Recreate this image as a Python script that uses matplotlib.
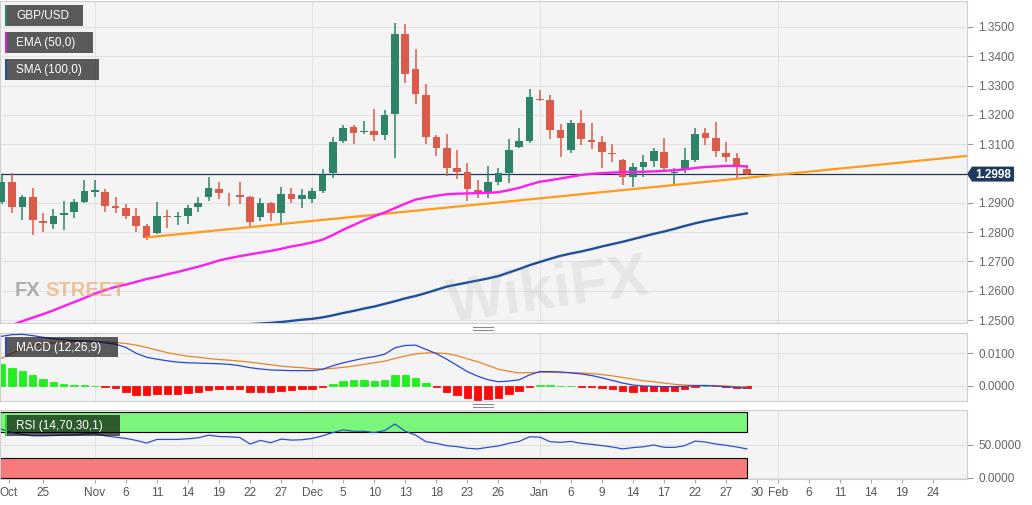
import numpy as np
import matplotlib
matplotlib.use("Agg")
import matplotlib.pyplot as plt
from matplotlib.patches import Rectangle, Polygon
from matplotlib.lines import Line2D
from matplotlib.ticker import FormatStrFormatter

plt.rcParams['font.family'] = ['Liberation Sans', 'DejaVu Sans']

# ---------------- data (daily GBP/USD, index 0 = first visible session) ----------------
opens = [1.2904, 1.2972, 1.2887, 1.2921, 1.2839, 1.2828, 1.2858, 1.2867, 1.2904, 1.2938,
         1.2938, 1.2889, 1.2881, 1.2855, 1.2821, 1.2798, 1.2855, 1.2853, 1.2855, 1.2885,
         1.2921, 1.2948, 1.2931, 1.2927, 1.2921, 1.2853, 1.2898, 1.2864, 1.2930, 1.2913,
         1.2913, 1.2941, 1.3001, 1.3112, 1.3160, 1.3141, 1.3146, 1.3131, 1.3202, 1.3475,
         1.3356, 1.3268, 1.3123, 1.3086, 1.3018, 1.3006, 1.2944, 1.2935, 1.2972, 1.3001,
         1.3092, 1.3112, 1.3254, 1.3251, 1.3149, 1.3080, 1.3171, 1.3114, 1.3106, 1.3071,
         1.3046, 1.2987, 1.3023, 1.3043, 1.3075, 1.3001, 1.3012, 1.3046, 1.3137, 1.3120,
         1.3069, 1.3054, 1.3014]
highs = [1.2995, 1.3001, 1.2927, 1.2952, 1.2864, 1.2878, 1.2907, 1.2912, 1.2977, 1.2978,
         1.2946, 1.2919, 1.2896, 1.2881, 1.2828, 1.2902, 1.2875, 1.2870, 1.2893, 1.2921,
         1.2987, 1.2972, 1.2935, 1.2972, 1.2924, 1.2918, 1.2903, 1.2953, 1.2949, 1.2947,
         1.2949, 1.3014, 1.3126, 1.3166, 1.3166, 1.3180, 1.3219, 1.3217, 1.3515, 1.3509,
         1.3424, 1.3304, 1.3131, 1.3134, 1.3080, 1.3035, 1.2978, 1.3026, 1.3018, 1.3117,
         1.3154, 1.3287, 1.3285, 1.3268, 1.3168, 1.3183, 1.3217, 1.3171, 1.3128, 1.3100,
         1.3048, 1.3035, 1.3063, 1.3086, 1.3120, 1.3018, 1.3086, 1.3154, 1.3154, 1.3177,
         1.3109, 1.3069, 1.3029]
lows = [1.2895, 1.2864, 1.2841, 1.2790, 1.2802, 1.2809, 1.2807, 1.2847, 1.2898, 1.2921,
        1.2870, 1.2864, 1.2845, 1.2799, 1.2773, 1.2792, 1.2815, 1.2824, 1.2828, 1.2867,
        1.2907, 1.2913, 1.2889, 1.2896, 1.2821, 1.2839, 1.2838, 1.2832, 1.2898, 1.2881,
        1.2900, 1.2932, 1.2984, 1.3105, 1.3101, 1.3135, 1.3112, 1.3114, 1.3052, 1.3308,
        1.3237, 1.3100, 1.3060, 1.2993, 1.2981, 1.2906, 1.2915, 1.2918, 1.2961, 1.2966,
        1.3086, 1.3105, 1.3247, 1.3117, 1.3055, 1.3069, 1.3097, 1.3084, 1.3018, 1.3040,
        1.2961, 1.2955, 1.2987, 1.3023, 1.3012, 1.2964, 1.3001, 1.3040, 1.3097, 1.3057,
        1.3040, 1.2980, 1.2995]
closes = [1.2972, 1.2887, 1.2921, 1.2841, 1.2830, 1.2855, 1.2866, 1.2902, 1.2940, 1.2944,
          1.2890, 1.2882, 1.2856, 1.2822, 1.2779, 1.2855, 1.2853, 1.2855, 1.2881, 1.2898,
          1.2952, 1.2932, 1.2929, 1.2921, 1.2836, 1.2898, 1.2864, 1.2930, 1.2913, 1.2927,
          1.2940, 1.2995, 1.3109, 1.3156, 1.3139, 1.3146, 1.3130, 1.3200, 1.3475, 1.3340,
          1.3270, 1.3126, 1.3088, 1.3020, 1.3004, 1.2946, 1.2936, 1.2970, 1.3001, 1.3080,
          1.3112, 1.3262, 1.3252, 1.3149, 1.3122, 1.3171, 1.3117, 1.3109, 1.3072, 1.3065,
          1.2989, 1.3021, 1.3040, 1.3078, 1.3018, 1.3006, 1.3046, 1.3135, 1.3122, 1.3078,
          1.3055, 1.3023, 1.2998]

ema50 = [1.2471, 1.2483, 1.2496, 1.2508, 1.2520, 1.2533, 1.2547, 1.2561, 1.2575, 1.2590,
         1.2602, 1.2613, 1.2621, 1.2630, 1.2640, 1.2647, 1.2656, 1.2664, 1.2673, 1.2682,
         1.2692, 1.2703, 1.2711, 1.2718, 1.2724, 1.2730, 1.2736, 1.2743, 1.2751, 1.2757,
         1.2765, 1.2774, 1.2790, 1.2808, 1.2824, 1.2840, 1.2854, 1.2867, 1.2882, 1.2897,
         1.2911, 1.2918, 1.2924, 1.2929, 1.2931, 1.2932, 1.2933, 1.2934, 1.2936, 1.2943,
         1.2951, 1.2962, 1.2972, 1.2977, 1.2983, 1.2989, 1.2995, 1.2999, 1.3001, 1.3003,
         1.3005, 1.3005, 1.3006, 1.3007, 1.3009, 1.3011, 1.3014, 1.3019, 1.3022, 1.3024,
         1.3026, 1.3026, 1.3024]

sma100_first = 22
sma100 = [1.2480, 1.2483, 1.2486, 1.2488, 1.2490, 1.2493, 1.2497, 1.2501,
          1.2504, 1.2509, 1.2516, 1.2524, 1.2531, 1.2539, 1.2546, 1.2555, 1.2564, 1.2574,
          1.2582, 1.2592, 1.2603, 1.2614, 1.2621, 1.2628, 1.2635, 1.2642, 1.2650, 1.2662,
          1.2674, 1.2687, 1.2698, 1.2709, 1.2719, 1.2727, 1.2734, 1.2742, 1.2751, 1.2759,
          1.2767, 1.2776, 1.2785, 1.2794, 1.2802, 1.2811, 1.2821, 1.2830, 1.2838, 1.2845,
          1.2852, 1.2858, 1.2864]

trend_x = [14, 93.3]
trend_y = [1.2782, 1.3060]

# MACD values in units of 0.0001
macd_line_e4 = [152, 157, 158, 154, 149, 144, 142, 139, 138, 136,
                132, 128, 118, 100, 88, 82, 77, 73, 71, 70,
                69, 68, 66, 62, 56, 52, 49, 48, 47, 47,
                47, 51, 62, 71, 78, 85, 90, 97, 117, 124,
                125, 112, 99, 82, 63, 44, 30, 19, 13, 15,
                19, 34, 44, 44, 43, 40, 37, 32, 25, 17,
                9, 3, 0, -1, -2, -2, -1, 1, 1, 0,
                -2, -4, -7]
macd_signal_e4 = [85, 100, 115, 125, 130, 132, 134, 136, 136, 136,
                  135, 133, 130, 125, 118, 110, 102, 96, 91, 88,
                  84, 81, 79, 76, 73, 69, 65, 61, 58, 56,
                  53, 52, 54, 57, 61, 66, 71, 76, 84, 92,
                  98, 101, 101, 99, 93, 83, 74, 63, 51, 45,
                  40, 41, 42, 42, 41, 41, 40, 38, 35, 31,
                  26, 21, 16, 13, 9, 5, 3, 2, 2, 1,
                  0, -2, -3]
macd_hist_e4 = [66, 54, 47, 34, 21, 13, 6, 3, 2, 0.5,
                -3, -7, -17, -28, -28, -24, -24, -24, -20, -18,
                -12, -10, -10, -10, -17, -17, -17, -14, -12, -10,
                -8, -2, 6, 15, 18, 18, 15, 18, 34, 34,
                25, 10, -2, -17, -28, -38, -43, -41, -36, -25,
                -15, -2, 3, 3, 0.5, 0.5, -2, -3, -7, -10,
                -14, -17, -14, -14, -14, -14, -10, -2, 0.5, -0.5,
                -2, -5, -7]

rsi = [74, 69, 66, 64, 64, 64.5, 65, 65.5, 66.5, 67.5,
       64, 62, 60, 57, 53, 58.5, 58.5, 58.5, 59.5, 61,
       65, 63, 62.5, 61.5, 51.5, 57, 53.5, 59, 57.5, 58,
       60, 64, 69, 73, 71, 71, 69, 72, 82, 71,
       65, 55, 52.5, 49, 47.5, 45, 44, 46.5, 48.5, 52.5,
       55.5, 62.5, 62, 55, 54, 55.5, 52.5, 51, 49, 47,
       44, 46, 47.3, 50, 46.5, 46.3, 49, 56, 54.5, 51.5,
       49.5, 47, 44]

tick_pos = [0.7, 4, 9, 12, 15, 18, 21, 24, 27, 30, 33, 36, 39, 42, 45, 48,
            52, 55, 58, 61, 64, 67, 70, 73, 75, 78, 81, 84, 87, 90]
tick_labels = ['Oct', '25', 'Nov', '6', '11', '14', '19', '22', '27', 'Dec', '5', '10', '13',
               '18', '23', '26', 'Jan', '6', '9', '14', '17', '22', '27', '30', 'Feb', '6',
               '11', '14', '19', '24']
month_pos = [9, 30, 52, 75]
price_ticks = [1.25, 1.26, 1.27, 1.28, 1.29, 1.31, 1.32, 1.33, 1.34, 1.35]
price_grid_hidden_label = [1.30]

# ---------------- figure ----------------
W, H = 1032, 505
fig = plt.figure(figsize=(W / 100, H / 100), dpi=100, facecolor='white')

def axes_px(l, t, r, b):
    return fig.add_axes([l / W, 1 - b / H, (r - l) / W, (b - t) / H])

ax = axes_px(0, 1, 967, 323)
axm = axes_px(0, 333, 967, 401)
axr = axes_px(0, 410, 967, 479)

XL = (-0.16, 93.27)
PANEL_BG = '#f4f4f4'
GRID = '#e2e2e2'
SPINE = '#cfcfcf'
GREEN = '#2e8468'
RED = '#dc5a4a'

for a in (ax, axm, axr):
    a.set_facecolor(PANEL_BG)
    a.set_xlim(*XL)
    for s in a.spines.values():
        s.set_color(SPINE)
        s.set_linewidth(0.8)
    a.yaxis.tick_right()
    a.tick_params(axis='y', length=4, width=0.8, color='#9a9a9a', labelcolor='#666666',
                  labelsize=8.5, pad=4)
    a.grid(axis='y', color=GRID, linewidth=0.8)
    a.set_axisbelow(True)
    for m in month_pos:
        a.axvline(m, color=GRID, linewidth=0.8, zorder=0.5)

# ---- main price panel ----
x = np.arange(len(closes))
ax.set_ylim(1.24898, 1.35887)
ax.set_yticks(price_ticks)
ax.yaxis.set_major_formatter(FormatStrFormatter('%.4f'))
ax.set_xticks([])
for g in price_grid_hidden_label:
    ax.axhline(g, color=GRID, linewidth=0.8, zorder=0.5)

for i in x:
    o, h, l, c = opens[i], highs[i], lows[i], closes[i]
    col = GREEN if c >= o else RED
    ax.vlines(i, l, h, color=col, linewidth=1.1, zorder=3)
    body = max(abs(c - o), 0.00005)
    ax.bar(i, body, bottom=min(o, c), width=0.74, color=col, zorder=3.5, linewidth=0)

ax.plot(trend_x, trend_y, color='#ff9a1a', linewidth=1.6, zorder=4)
ax.plot(x, ema50, color='#ff1cf0', linewidth=1.7, zorder=4.5)
ax.plot(np.arange(sma100_first, sma100_first + len(sma100)), sma100, color='#1d4f9a',
        linewidth=1.7, zorder=4.5)
ax.axhline(closes[-1], color='#1f3657', linewidth=0.9, zorder=2.5)

# ---- MACD panel ----
macd_line = np.array(macd_line_e4) * 1e-4
macd_signal = np.array(macd_signal_e4) * 1e-4
macd_hist = np.array(macd_hist_e4) * 1e-4
axm.set_ylim(-0.00459, 0.01621)
axm.set_yticks([0.0, 0.01])
axm.yaxis.set_major_formatter(FormatStrFormatter('%.4f'))
axm.set_xticks([])
hcols = ['#22ee22' if v >= 0 else '#ff0a0a' for v in macd_hist]
axm.bar(x, macd_hist, width=0.72, color=hcols, edgecolor=hcols, linewidth=0.6, zorder=2)
axm.plot(x, macd_signal, color='#e8842a', linewidth=0.9, zorder=3)
axm.plot(x, macd_line, color='#2846d0', linewidth=0.9, zorder=3.2)

# ---- RSI panel ----
axr.set_ylim(-2, 103.5)
axr.set_yticks([0, 50])
axr.yaxis.set_major_formatter(FormatStrFormatter('%.4f'))
axr.add_patch(Rectangle((XL[0], 70), x[-1] - XL[0], 30, facecolor='#7af77a',
                        edgecolor='black', linewidth=0.8, zorder=1))
axr.add_patch(Rectangle((XL[0], 0), x[-1] - XL[0], 30, facecolor='#f87b7b',
                        edgecolor='black', linewidth=0.8, zorder=1))
axr.plot(x, rsi, color='#2c4fd0', linewidth=0.9, zorder=3)
axr.set_xticks(tick_pos)
axr.set_xticklabels(tick_labels)
axr.tick_params(axis='x', length=3, width=0.8, color='#aaaaaa', labelcolor='#555555',
                labelsize=8.5, pad=3)

# ---------------- overlays (figure pixel coords) ----------------
def fxp(px):
    return px / W

def fyp(py):
    return 1 - py / H

def label_box(x0, y0, x1, y1, text, strip):
    fig.add_artist(Rectangle((fxp(x0), fyp(y1)), (x1 - x0) / W, (y1 - y0) / H,
                             transform=fig.transFigure, facecolor='black', alpha=0.63,
                             edgecolor='none', zorder=20))
    fig.add_artist(Rectangle((fxp(x0), fyp(y1)), 2.2 / W, (y1 - y0) / H,
                             transform=fig.transFigure, facecolor=strip,
                             edgecolor='none', zorder=21))
    fig.text(fxp(x0 + 11), fyp((y0 + y1) / 2 + 0.5), text, color='white', fontsize=8.5,
             ha='left', va='center', zorder=22)

label_box(5, 5, 83, 26, 'GBP/USD', GREEN)
label_box(5, 32, 93, 53, 'EMA (50,0)', '#e21ce0')
label_box(5, 59, 99, 80, 'SMA (100,0)', '#1d4f9a')
label_box(5, 337, 118, 357, 'MACD (12,26,9)', '#2846d0')
label_box(5, 415, 120, 436, 'RSI (14,70,30,1)', '#2fd02f')

# current price marker
fig.canvas.draw()
ydisp = ax.transData.transform((0, closes[-1]))[1]
ypx = H - ydisp
pts = [(967, ypx), (972, ypx - 7.5), (1014, ypx - 7.5), (1014, ypx + 7.5), (972, ypx + 7.5)]
fig.add_artist(Polygon([(fxp(px), fyp(py)) for px, py in pts], closed=True,
                       transform=fig.transFigure, facecolor='#1f3a5f', edgecolor='none',
                       zorder=20))
fig.text(fxp(993), fyp(ypx + 0.5), f'{closes[-1]:.4f}', color='white', fontsize=8.5,
         weight='bold', ha='center', va='center', zorder=21)

# panel resize handles
for yy in (326.5, 329.5, 404.0, 407.0):
    fig.add_artist(Line2D([fxp(473), fxp(493)], [fyp(yy), fyp(yy)], color='#8a8a8a',
                          linewidth=0.8, transform=fig.transFigure, zorder=20))

# watermarks
fig.text(fxp(15), fyp(290), 'FX', fontsize=14.5, weight='bold', color='#808080',
         alpha=0.6, ha='left', va='center', zorder=6)
fig.text(fxp(45), fyp(290), 'STREET', fontsize=14.5, weight='bold', color='#e8a060',
         alpha=0.6, ha='left', va='center', zorder=6)
fig.text(fxp(548), fyp(292), 'WikiFX', fontsize=44, weight='bold', color='#909090',
         alpha=0.14, rotation=8, ha='center', va='center', zorder=6)

fig.savefig('out.png', dpi=100, facecolor='white')
